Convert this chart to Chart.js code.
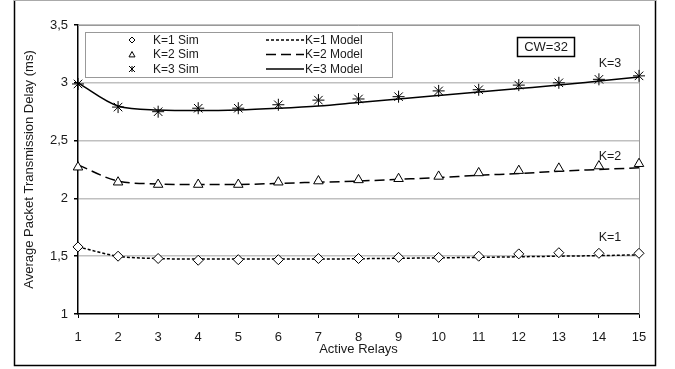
<!DOCTYPE html>
<html>
<head>
<meta charset="utf-8">
<script src="https://cdn.jsdelivr.net/npm/chart.js@4/dist/chart.umd.min.js"></script>
<style>
  html, body { margin: 0; padding: 0; background: #fff; }
  #wrap { width: 675px; height: 369px; }
</style>
</head>
<body>
<div id="wrap"><canvas id="delayChart" width="675" height="369"></canvas></div>
<script>
// X axis: number of active relays
const relays = ['1', '2', '3', '4', '5', '6', '7', '8', '9', '10', '11', '12', '13', '14', '15'];

// simulation points (ms)
const k1Sim = [1.58, 1.50, 1.48, 1.465, 1.47, 1.47, 1.48, 1.48, 1.49, 1.49, 1.50, 1.52, 1.53, 1.525, 1.525];
const k2Sim = [2.27, 2.14, 2.12, 2.12, 2.12, 2.14, 2.15, 2.16, 2.17, 2.19, 2.22, 2.24, 2.26, 2.28, 2.30];
const k3Sim = [2.99, 2.79, 2.75, 2.78, 2.78, 2.81, 2.85, 2.86, 2.88, 2.93, 2.94, 2.98, 3.00, 3.03, 3.06];

// analytical model curves (ms)
const k1Model = [1.58, 1.50, 1.48, 1.475, 1.475, 1.475, 1.475, 1.478, 1.482, 1.486, 1.49, 1.495, 1.50, 1.505, 1.512];
const k2Model = [2.29, 2.15, 2.125, 2.12, 2.12, 2.13, 2.14, 2.15, 2.165, 2.18, 2.20, 2.215, 2.235, 2.25, 2.265];
const k3Model = [3.00, 2.80, 2.765, 2.76, 2.765, 2.78, 2.80, 2.83, 2.86, 2.89, 2.92, 2.95, 2.98, 3.015, 3.05];

const yTicks = [1, 1.5, 2, 2.5, 3, 3.5];

const FONT = "'Liberation Sans', Arial, sans-serif";
const INK = '#1a1a1a';

// small marker painter for the hand-made legend
function drawMarker(ctx, style, x, y, r) {
  ctx.save();
  ctx.strokeStyle = '#000';
  ctx.fillStyle = '#fff';
  ctx.lineWidth = 1;
  ctx.beginPath();
  if (style === 'rectRot') {
    ctx.moveTo(x, y - r); ctx.lineTo(x + r, y); ctx.lineTo(x, y + r); ctx.lineTo(x - r, y); ctx.closePath();
    ctx.fill(); ctx.stroke();
  } else if (style === 'triangle') {
    ctx.moveTo(x, y - r); ctx.lineTo(x + r, y + r * 0.8); ctx.lineTo(x - r, y + r * 0.8); ctx.closePath();
    ctx.fill(); ctx.stroke();
  } else {
    ctx.moveTo(x - r, y - r); ctx.lineTo(x + r, y + r);
    ctx.moveTo(x + r, y - r); ctx.lineTo(x - r, y + r);
    ctx.moveTo(x, y - r); ctx.lineTo(x, y + r);
    ctx.stroke();
  }
  ctx.restore();
}

// frame, legend box, CW box and K= labels
const decorations = {
  id: 'decorations',
  beforeDraw(chart) {
    const ctx = chart.ctx;
    ctx.save();
    ctx.fillStyle = '#fff';
    ctx.fillRect(0, 0, chart.width, chart.height);
    ctx.restore();
  },
  beforeDatasetsDraw(chart) {
    const { ctx, chartArea: a } = chart;
    ctx.save();
    ctx.strokeStyle = '#999';
    ctx.lineWidth = 1;
    ctx.beginPath();
    ctx.moveTo(a.left, a.top + 0.5); ctx.lineTo(a.right + 0.5, a.top + 0.5); ctx.lineTo(a.right + 0.5, a.bottom);
    ctx.stroke();
    ctx.restore();
  },
  afterDraw(chart) {
    const { ctx } = chart;
    ctx.save();

    // outer frame
    ctx.strokeStyle = '#000';
    ctx.lineWidth = 1.5;
    ctx.beginPath();
    ctx.moveTo(14.5, 0); ctx.lineTo(14.5, 365.5); ctx.lineTo(655.5, 365.5); ctx.lineTo(655.5, 0);
    ctx.stroke();
    ctx.strokeStyle = '#aaa';
    ctx.lineWidth = 1;
    ctx.beginPath(); ctx.moveTo(14, 0.5); ctx.lineTo(656, 0.5); ctx.stroke();

    // legend
    const lx = 85, ly = 32, lw = 307, lh = 45;
    ctx.fillStyle = '#fff';
    ctx.fillRect(lx, ly, lw, lh);
    ctx.strokeStyle = '#999';
    ctx.lineWidth = 1;
    ctx.strokeRect(lx + 0.5, ly + 0.5, lw, lh);

    ctx.font = '12px ' + FONT;
    ctx.fillStyle = INK;
    ctx.textBaseline = 'middle';
    ctx.textAlign = 'left';
    const rows = [40, 54.5, 69];
    const ds = chart.data.datasets;
    for (let i = 0; i < 3; i++) {
      const sim = ds[i];
      drawMarker(ctx, sim.pointStyle, 132, rows[i], 3);
      ctx.fillStyle = INK;
      ctx.fillText(sim.label, 153, rows[i] + 0.5);

      const mod = ds[i + 3];
      ctx.save();
      ctx.strokeStyle = '#000';
      ctx.lineWidth = 1.5;
      ctx.setLineDash(mod.borderDash || []);
      ctx.beginPath();
      ctx.moveTo(266, rows[i]); ctx.lineTo(304, rows[i]);
      ctx.stroke();
      ctx.restore();
      ctx.fillText(mod.label, 305, rows[i] + 0.5);
    }

    // CW=32 box
    ctx.strokeStyle = '#000';
    ctx.lineWidth = 1.5;
    ctx.strokeRect(517.5, 37.5, 57, 19);
    ctx.font = '13px ' + FONT;
    ctx.textAlign = 'center';
    ctx.fillText('CW=32', 546, 47.5);

    // curve labels
    ctx.font = '12.5px ' + FONT;
    ctx.fillText('K=3', 610, 64);
    ctx.fillText('K=2', 610, 157);
    ctx.fillText('K=1', 610, 238);
    ctx.restore();
  }
};

const simStyle = (label, data, style, radius) => ({
  label: label,
  data: data,
  showLine: false,
  pointStyle: style,
  pointRadius: radius,
  pointBorderColor: '#000',
  pointBackgroundColor: '#fff',
  pointBorderWidth: 1,
  borderColor: '#000',
  backgroundColor: '#fff'
});

const modelStyle = (label, data, dash) => ({
  label: label,
  data: data,
  borderColor: '#000',
  borderWidth: 1.5,
  borderDash: dash,
  pointRadius: 0,
  cubicInterpolationMode: 'monotone',
  fill: false
});

const ctx = document.getElementById('delayChart').getContext('2d');
new Chart(ctx, {
  type: 'line',
  data: {
    labels: relays,
    datasets: [
      simStyle('K=1 Sim', k1Sim, 'rectRot', 5),
      simStyle('K=2 Sim', k2Sim, 'triangle', 5.5),
      simStyle('K=3 Sim', k3Sim, 'star', 6),
      modelStyle('K=1 Model', k1Model, [3, 2]),
      modelStyle('K=2 Model', k2Model, [10, 5]),
      modelStyle('K=3 Model', k3Model, [])
    ]
  },
  options: {
    responsive: false,
    animation: false,
    devicePixelRatio: 1,
    layout: { padding: { left: 14, right: 36, top: 25, bottom: 5 } },
    plugins: {
      legend: { display: false },
      tooltip: { enabled: false }
    },
    scales: {
      x: {
        offset: false,
        afterFit: (scale) => { scale.height = 50; },
        grid: { drawOnChartArea: false, drawTicks: true, tickLength: 4, tickColor: '#000' },
        border: { color: '#000', width: 1.5 },
        ticks: { color: INK, font: { family: FONT, size: 13 }, padding: 12, maxRotation: 0 },
        title: { display: true, text: 'Active Relays', color: INK, font: { family: FONT, size: 13 }, padding: { top: 0, bottom: 7 } }
      },
      y: {
        min: 1,
        max: 3.5,
        afterFit: (scale) => { scale.width = 64; },
        afterBuildTicks: (scale) => { scale.ticks = yTicks.map(v => ({ value: v })); },
        grid: { color: (c) => c.tick && c.tick.value === 1 ? 'rgba(0,0,0,0)' : '#c0c0c0', lineWidth: 1.5, drawTicks: true, tickLength: 4, tickColor: '#000' },
        border: { color: '#000', width: 1.5 },
        ticks: {
          color: INK,
          font: { family: FONT, size: 13 },
          padding: 6,
          callback: (v) => String(v).replace('.', ',')
        },
        title: { display: true, text: 'Average Packet Transmission Delay (ms)', color: INK, font: { family: FONT, size: 13 }, padding: { top: 8, bottom: 0 } }
      }
    }
  },
  plugins: [decorations]
});
</script>
</body>
</html>
